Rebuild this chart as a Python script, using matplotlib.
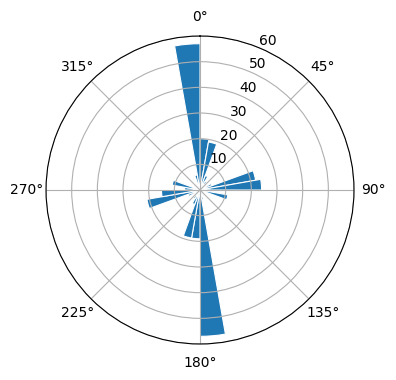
import numpy as np
import matplotlib
matplotlib.use("Agg")
import matplotlib.pyplot as plt

# direction bins (start angle, degrees, clockwise from north) and counts
bin_start = np.arange(0, 360, 10)
counts = [20, 19, 6, 4, 2, 3, 5, 22, 24, 4,
          11, 2, 1, 1, 2, 3, 4, 57, 19, 19,
          6, 4, 2, 3, 5, 21, 15, 6, 11, 3,
          2, 1, 2, 3, 6, 57]
rticks = [10, 20, 30, 40, 50, 60]

fig = plt.figure(figsize=(3.96, 3.8), dpi=100)
ax = fig.add_axes([0.1162, 0.0947, 308 / 396, 308 / 380], projection='polar')
ax.set_theta_zero_location('N')
ax.set_theta_direction(-1)

ax.bar(np.deg2rad(bin_start), counts, width=np.deg2rad(10), align='edge',
       color='#1f77b4', edgecolor='white', linewidth=0.8)

ax.set_ylim(0, 60)
ax.set_yticks(rticks)
ax.set_rlabel_position(22.5)

fig.savefig('out.png', dpi=100)
